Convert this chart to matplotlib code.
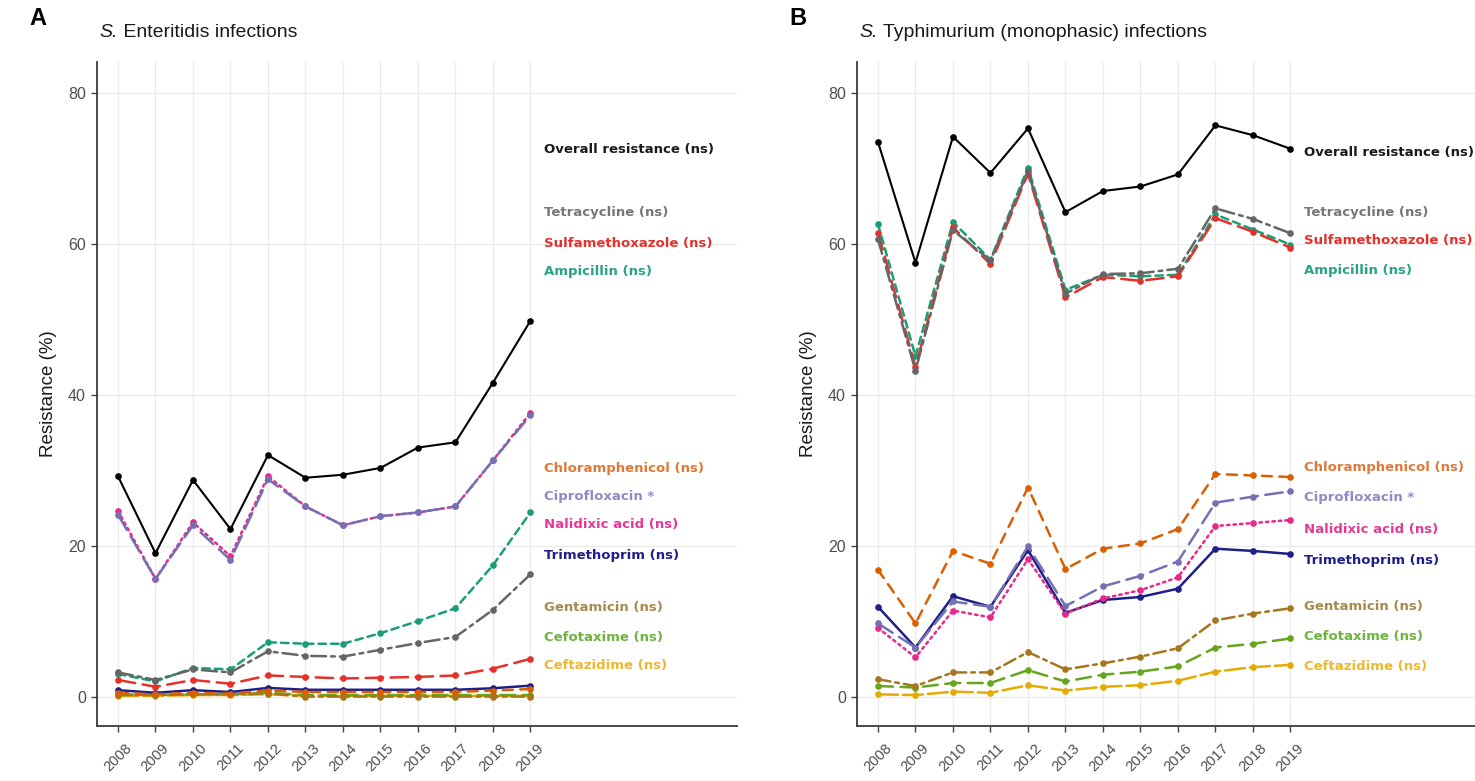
import matplotlib
matplotlib.use("Agg")
import matplotlib.pyplot as plt

# years on the x axis
years = list(range(2008, 2020))

drugs = ["Overall resistance", "Tetracycline", "Sulfamethoxazole", "Ampicillin",
         "Chloramphenicol", "Ciprofloxacin", "Nalidixic acid", "Trimethoprim",
         "Gentamicin", "Cefotaxime", "Ceftazidime"]
signif = ["(ns)", "(ns)", "(ns)", "(ns)", "(ns)", "*", "(ns)", "(ns)", "(ns)", "(ns)", "(ns)"]

# panel A: S. Enteritidis
ent_overall = [29.2, 19.0, 28.7, 22.2, 32.0, 29.0, 29.4, 30.3, 33.0, 33.7, 41.6, 49.8]
ent_tetracycline = [3.2, 2.2, 3.6, 3.2, 6.0, 5.4, 5.3, 6.2, 7.1, 7.9, 11.5, 16.2]
ent_sulfamethoxazole = [2.2, 1.3, 2.2, 1.7, 2.8, 2.6, 2.4, 2.5, 2.6, 2.8, 3.7, 5.0]
ent_ampicillin = [3.0, 2.0, 3.8, 3.6, 7.2, 7.0, 7.0, 8.4, 10.0, 11.7, 17.4, 24.4]
ent_chloramphenicol = [0.5, 0.3, 0.5, 0.4, 0.8, 0.6, 0.6, 0.6, 0.6, 0.6, 0.8, 1.0]
ent_ciprofloxacin = [24.1, 15.6, 22.7, 18.1, 28.8, 25.2, 22.7, 23.9, 24.4, 25.2, 31.3, 37.3]
ent_nalidixic = [24.6, 15.6, 23.1, 18.6, 29.2, 25.2, 22.7, 23.9, 24.4, 25.2, 31.3, 37.6]
ent_trimethoprim = [0.85, 0.5, 0.85, 0.6, 1.15, 0.9, 0.9, 0.9, 0.9, 0.9, 1.1, 1.45]
ent_gentamicin = [0.2, 0.2, 0.3, 0.3, 0.4, 0.0, 0.0, 0.0, 0.0, 0.0, 0.0, 0.0]
ent_cefotaxime = [0.3, 0.2, 0.3, 0.3, 0.5, 0.2, 0.2, 0.2, 0.2, 0.2, 0.2, 0.2]
ent_ceftazidime = [0.1, 0.1, 0.2, 0.2, 0.3, 0.1, 0.1, 0.1, 0.1, 0.1, 0.1, 0.1]

# panel B: S. Typhimurium (monophasic)
typ_overall = [73.5, 57.5, 74.2, 69.4, 75.3, 64.2, 67.0, 67.6, 69.2, 75.7, 74.4, 72.6]
typ_tetracycline = [60.6, 43.2, 61.8, 57.8, 69.6, 53.4, 56.0, 56.1, 56.7, 64.7, 63.3, 61.4]
typ_sulfamethoxazole = [61.5, 43.7, 62.2, 57.3, 69.3, 52.9, 55.6, 55.1, 55.7, 63.4, 61.6, 59.5]
typ_ampicillin = [62.6, 45.1, 62.9, 57.9, 70.1, 53.9, 55.9, 55.7, 55.9, 63.9, 61.9, 59.9]
typ_chloramphenicol = [16.8, 9.7, 19.3, 17.6, 27.7, 16.9, 19.6, 20.3, 22.2, 29.5, 29.3, 29.1]
typ_ciprofloxacin = [9.7, 6.5, 12.6, 11.9, 19.9, 12.0, 14.6, 16.0, 17.9, 25.7, 26.5, 27.2]
typ_nalidixic = [9.1, 5.2, 11.4, 10.5, 18.2, 11.0, 13.0, 14.1, 15.8, 22.6, 23.0, 23.4]
typ_trimethoprim = [11.9, 6.5, 13.3, 11.9, 19.4, 11.1, 12.8, 13.2, 14.3, 19.6, 19.3, 18.9]
typ_gentamicin = [2.3, 1.4, 3.2, 3.2, 5.9, 3.6, 4.4, 5.3, 6.4, 10.1, 11.0, 11.7]
typ_cefotaxime = [1.4, 1.2, 1.8, 1.8, 3.5, 2.0, 2.9, 3.3, 4.0, 6.5, 7.0, 7.7]
typ_ceftazidime = [0.3, 0.2, 0.65, 0.5, 1.5, 0.8, 1.3, 1.5, 2.1, 3.3, 3.9, 4.2]

# where the repelled labels sit (y, in data units)
label_y_A = [72.5, 64.2, 60.1, 56.4, 30.2, 26.5, 22.8, 18.7, 11.8, 7.8, 4.1]
label_y_B = [72.1, 64.1, 60.4, 56.5, 30.3, 26.4, 22.1, 18.0, 11.9, 7.9, 4.0]

colors = ["#000000", "#666666", "#e4312b", "#1b9e77", "#d95f02", "#7570b3",
          "#e7298a", "#1f1f8a", "#a6761d", "#66a61e", "#e6ab02"]
text_colors = ["#1a1a1a", "#777777", "#e4312b", "#2aa383", "#dd7a3a", "#8f8bc6",
               "#e23a96", "#1f1f8a", "#a88a4e", "#6db33f", "#ecb830"]
styles = ["-", (0, (6, 2, 1.5, 2)), (0, (7, 3)), (0, (3, 2)), (0, (4, 3)),
          (0, (7, 3)), (0, (1, 1.6)), "-", (0, (5, 2, 1.5, 2)), (0, (6, 3)), (0, (8, 2))]

plt.rcParams["font.family"] = ["Liberation Sans", "DejaVu Sans"]

fig = plt.figure(figsize=(14.75, 7.81), dpi=100)

W, H = 1475.0, 781.0
ax_w = 640 / W
ax_h = (726 - 62) / H
ax_b = (781 - 726) / H
axA = fig.add_axes([97 / W, ax_b, ax_w, ax_h])
axB = fig.add_axes([857 / W, ax_b, ax_w, ax_h])

panelA = [ent_overall, ent_tetracycline, ent_sulfamethoxazole, ent_ampicillin,
          ent_chloramphenicol, ent_ciprofloxacin, ent_nalidixic, ent_trimethoprim,
          ent_gentamicin, ent_cefotaxime, ent_ceftazidime]
panelB = [typ_overall, typ_tetracycline, typ_sulfamethoxazole, typ_ampicillin,
          typ_chloramphenicol, typ_ciprofloxacin, typ_nalidixic, typ_trimethoprim,
          typ_gentamicin, typ_cefotaxime, typ_ceftazidime]


def draw_panel(ax, series, label_y, letter, species, rest):
    # lines, bottom to top so the black one ends up on top
    for i in reversed(range(len(drugs))):
        lw = 1.5 if i == 0 else 1.8
        ax.plot(years, series[i], color=colors[i], linestyle=styles[i], lw=lw,
                marker="o", markersize=4.8, markeredgewidth=0,
                dash_capstyle="round", solid_capstyle="round", zorder=3 + (len(drugs) - i) * 0.01)
    for i, name in enumerate(drugs):
        ax.text(2019.35, label_y[i], f"{name} {signif[i]}", color=text_colors[i],
                fontsize=9.5, fontweight="bold", family="DejaVu Sans",
                va="center", ha="left", zorder=5)

    ax.set_xlim(2007.44, 2024.51)
    ax.set_ylim(-3.9, 84.1)
    ax.set_xticks(years)
    ax.set_xticklabels([str(y) for y in years], rotation=45, ha="center",
                       va="top", fontsize=10.5, color="#4d4d4d")
    ax.set_yticks([0, 20, 40, 60, 80])
    ax.set_yticklabels(["0", "20", "40", "60", "80"], fontsize=11.5, color="#4d4d4d")
    ax.tick_params(axis="both", length=4, width=1, color="#444444")
    ax.tick_params(axis="x", pad=7)
    ax.tick_params(axis="y", pad=4)
    ax.grid(True, color="#ebebeb", lw=0.9, zorder=0)
    ax.set_axisbelow(True)
    for side in ["top", "right"]:
        ax.spines[side].set_visible(False)
    for side in ["left", "bottom"]:
        ax.spines[side].set_color("#3a3a3a")
        ax.spines[side].set_linewidth(1.3)
    ax.set_ylabel("Resistance (%)", fontsize=13.5, color="#1a1a1a", labelpad=8)

    ax.text(-0.105, 1.065, letter, transform=ax.transAxes, fontsize=17,
            fontweight="bold", ha="left", va="center", family="Liberation Sans")
    ax.text(0.004, 1.045, species, transform=ax.transAxes, fontsize=14,
            style="italic", ha="left", va="center", color="#1a1a1a")
    # non-italic remainder of the title, placed right after the italic part
    sp = ax.texts[-1]
    fig.canvas.draw()
    bb = sp.get_window_extent()
    x_end = ax.transAxes.inverted().transform((bb.x1, bb.y0))[0]
    ax.text(x_end, 1.045, " " + rest, transform=ax.transAxes, fontsize=14,
            ha="left", va="center", color="#1a1a1a")


draw_panel(axA, panelA, label_y_A, "A", "S.", "Enteritidis infections")
draw_panel(axB, panelB, label_y_B, "B", "S.", "Typhimurium (monophasic) infections")

fig.savefig("out.png", dpi=100)
